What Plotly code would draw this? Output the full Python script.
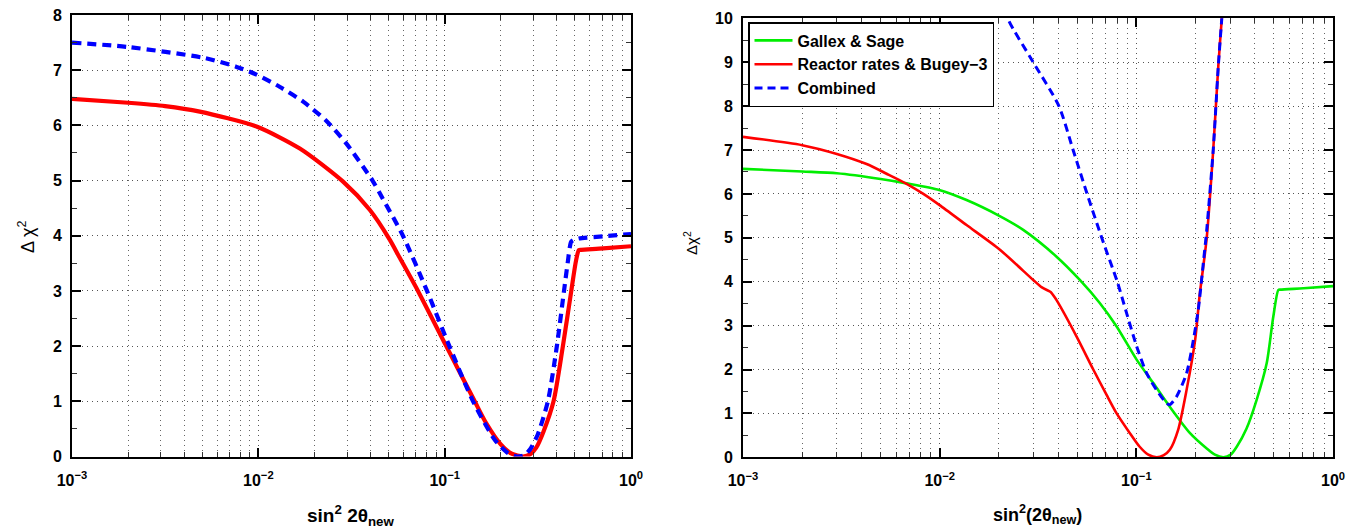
import plotly.graph_objects as go

# ---------------- data ----------------
# Left panel
left_red_x = [0.001, 0.002, 0.00316, 0.00485, 0.00977, 0.0167, 0.0285, 0.0396, 0.0507, 0.0574,
              0.0719, 0.102, 0.145, 0.166, 0.2, 0.229, 0.263, 0.288, 0.31, 0.339, 0.384,
              0.431, 0.478, 0.507, 0.525, 0.54, 0.708, 1.0]
left_red_y = [6.48, 6.41, 6.35, 6.25, 5.98, 5.58, 4.98, 4.47, 3.93, 3.60,
              3.0, 2.0, 1.0, 0.62, 0.22, 0.05, 0.0, 0.04, 0.16, 0.45, 1.0,
              2.0, 3.0, 3.55, 3.74, 3.745, 3.77, 3.81]

left_blue_x = [0.001, 0.002, 0.00516, 0.00764, 0.00977, 0.013, 0.0174, 0.0232, 0.0297, 0.0365,
               0.041, 0.0457, 0.0597, 0.0804, 0.106, 0.142, 0.186, 0.219, 0.245, 0.266,
               0.286, 0.316, 0.358, 0.40, 0.437, 0.457, 0.477, 0.49, 0.525, 0.708, 1.0]
left_blue_y = [7.50, 7.42, 7.22, 7.06, 6.92, 6.70, 6.43, 6.08, 5.67, 5.25,
               5.0, 4.72, 4.0, 3.0, 2.0, 1.0, 0.3, 0.06, 0.0, 0.02,
               0.12, 0.4, 1.0, 2.0, 3.0, 3.5, 3.89, 3.92, 3.95, 3.99, 4.03]

# Right panel
gallex_x = [0.001, 0.002, 0.003, 0.00501, 0.00679, 0.00995, 0.0137, 0.0201, 0.0266, 0.0393,
            0.0516, 0.0653, 0.0794, 0.1005, 0.122, 0.148, 0.1875, 0.228, 0.251, 0.277,
            0.302, 0.324, 0.363, 0.409, 0.46, 0.497, 0.527, 0.54, 0.708, 1.0]
gallex_y = [6.57, 6.51, 6.47, 6.34, 6.24, 6.09, 5.86, 5.50, 5.18, 4.57,
            4.04, 3.51, 2.98, 2.22, 1.69, 1.15, 0.55, 0.2, 0.06, 0.0,
            0.06, 0.24, 0.65, 1.31, 2.14, 3.2, 3.81, 3.82, 3.85, 3.90]

reactor_x = [0.001, 0.002, 0.003, 0.00425, 0.00537, 0.00679, 0.00826, 0.00995, 0.0137, 0.0201,
             0.0299, 0.0331, 0.0365, 0.0371, 0.0378, 0.0393, 0.0497, 0.0604, 0.0706, 0.0794,
             0.0927, 0.104, 0.115, 0.127, 0.138, 0.148, 0.163, 0.18, 0.199, 0.21,
             0.228, 0.246, 0.261, 0.272, 0.279]
reactor_y = [7.30, 7.11, 6.91, 6.68, 6.46, 6.23, 6.0, 5.75, 5.29, 4.74,
             4.04, 3.87, 3.77, 3.74, 3.69, 3.58, 2.75, 2.0, 1.42, 1.0,
             0.55, 0.24, 0.06, 0.0, 0.05, 0.17, 0.62, 1.53, 2.67, 3.7,
             5.0, 7.0, 8.9, 10.0, 10.7]

combined_x = [0.0209, 0.0223, 0.0299, 0.0404, 0.0477, 0.0562, 0.0667, 0.08, 0.0893, 0.1005,
              0.113, 0.127, 0.1426, 0.148, 0.16, 0.18, 0.195, 0.2065, 0.219, 0.228,
              0.246, 0.261, 0.272, 0.279]
combined_y = [10.5, 9.98, 9.0, 8.0, 7.0, 6.0, 5.0, 4.0, 3.28, 2.52,
              1.91, 1.53, 1.23, 1.2, 1.38, 1.91, 2.67, 3.36, 4.42, 5.18,
              7.0, 8.9, 10.0, 10.7]

x_major = [0.001, 0.01, 0.1, 1.0]
x_major_text = ["10<sup>−3</sup>", "10<sup>−2</sup>", "10<sup>−1</sup>", "10<sup>0</sup>"]
x_minor = [m * d for d in (0.001, 0.01, 0.1) for m in range(2, 10)]

legend_names = ["Gallex &amp; Sage", "Reactor rates &amp; Bugey−3", "Combined"]

# ---------------- figure ----------------
OFF = 8                      # default page margin of the html body
W, H = 1362 - OFF, 531 - OFF
FONT = "Liberation Sans, Arial, Helvetica, sans-serif"

fig = go.Figure()

SM = 0.7
fig.add_trace(go.Scatter(x=left_red_x, y=left_red_y, mode="lines", showlegend=False,
                         line=dict(color="#ff0000", width=4.2, shape="spline", smoothing=SM),
                         xaxis="x", yaxis="y"))
fig.add_trace(go.Scatter(x=left_blue_x, y=left_blue_y, mode="lines", showlegend=False,
                         line=dict(color="#0000ff", width=4.2, dash="9px,6px", shape="spline", smoothing=SM),
                         xaxis="x", yaxis="y"))

fig.add_trace(go.Scatter(x=gallex_x, y=gallex_y, mode="lines", name=legend_names[0],
                         line=dict(color="#00ee00", width=2.6, shape="spline", smoothing=SM),
                         xaxis="x2", yaxis="y2"))
fig.add_trace(go.Scatter(x=reactor_x, y=reactor_y, mode="lines", name=legend_names[1],
                         line=dict(color="#ff0000", width=2.6, shape="spline", smoothing=SM),
                         xaxis="x2", yaxis="y2"))
fig.add_trace(go.Scatter(x=combined_x, y=combined_y, mode="lines", name=legend_names[2],
                         line=dict(color="#0000ff", width=3, dash="8px,5px", shape="spline", smoothing=SM),
                         xaxis="x2", yaxis="y2"))


def px_x(p):
    return (p - OFF) / W


def px_y(p):
    return 1 - (p - OFF) / H


tick_font = dict(family=FONT, size=16, color="black", weight="bold")
GRID_DASH = "1px,4px"


def xaxis_cfg(dom, anchor):
    return dict(
        type="log", range=[-3, 0], domain=dom, anchor=anchor, automargin=False,
        tickmode="array", tickvals=x_major, ticktext=x_major_text,
        ticks="inside", ticklen=9, tickwidth=1.5, tickcolor="black",
        showline=True, linecolor="black", linewidth=1.8, mirror="allticks",
        tickfont=tick_font, ticklabelstandoff=8, ticklabeloverflow="allow", zeroline=False,
        showgrid=True, gridcolor="#555555", griddash=GRID_DASH, gridwidth=1,
        minor=dict(tickvals=x_minor, ticks="inside", ticklen=5, tickwidth=1,
                   tickcolor="#333", showgrid=True, gridcolor="#666666",
                   griddash=GRID_DASH, gridwidth=1),
    )


def yaxis_cfg(dom, anchor, top):
    return dict(
        range=[0, top], domain=dom, anchor=anchor, automargin=False,
        tickmode="linear", tick0=0, dtick=1,
        ticks="inside", ticklen=9, tickwidth=1.5, tickcolor="black",
        showline=True, linecolor="black", linewidth=1.8, mirror="allticks",
        tickfont=tick_font, ticklabelstandoff=5, ticklabeloverflow="allow", zeroline=False,
        showgrid=True, gridcolor="#555555", griddash=GRID_DASH, gridwidth=1,
        minor=dict(dtick=0.5, ticks="inside", ticklen=5, tickwidth=1, tickcolor="#333",
                   showgrid=False),
    )


def label(text, x, y, size, bold=False, angle=0):
    f = dict(family=FONT, size=size, color="black")
    if bold:
        f["weight"] = "bold"
    return dict(text=text, x=px_x(x), y=px_y(y), xref="paper", yref="paper",
                xanchor="center", yanchor="middle", showarrow=False,
                textangle=angle, font=f)


fig.update_layout(
    template="none",
    width=W, height=H,
    margin=dict(l=0, r=0, t=0, b=0, pad=0),
    paper_bgcolor="white", plot_bgcolor="white",
    font=dict(family=FONT, color="black"),
    xaxis=xaxis_cfg([px_x(72), px_x(631)], "y"),
    yaxis=yaxis_cfg([px_y(456.5), px_y(15)], "x", 8),
    xaxis2=xaxis_cfg([px_x(743), px_x(1333)], "y2"),
    yaxis2=yaxis_cfg([px_y(457.3), px_y(18.3)], "x2", 10),
    legend=dict(
        x=px_x(748), y=px_y(22), xanchor="left", yanchor="top",
        bgcolor="white", bordercolor="black", borderwidth=1.5,
        font=dict(family=FONT, size=16, color="black", weight="bold"),
        tracegroupgap=0, itemwidth=38,
    ),
    annotations=[
        label("sin<sup>2</sup> 2θ<sub>new</sub>", 351, 515, 19, bold=True),
        label("sin<sup>2</sup>(2θ<sub>new</sub>)", 1037, 514, 18, bold=True),
        label("Δ χ<sup>2</sup>", 26, 237, 18, angle=-90),
        label("Δχ<sup>2</sup>", 690, 243, 15, angle=-90),
    ],
)

fig.write_html("out.html")
